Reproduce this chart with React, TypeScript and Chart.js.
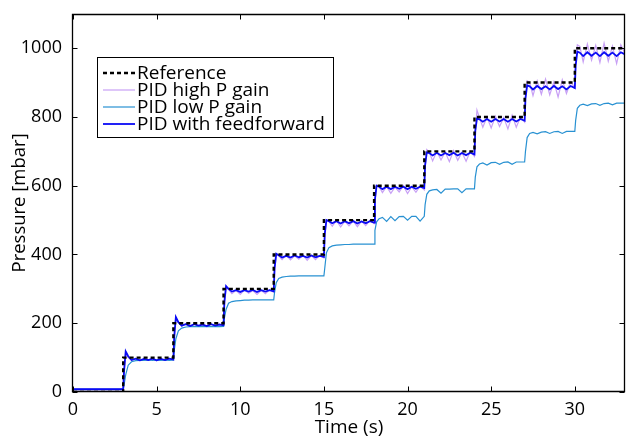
import React, { useEffect, useRef } from 'react';
import { Chart, registerables } from 'chart.js';
Chart.register(...registerables);

const FONT = '"Open Sans", "DejaVu Sans", sans-serif';

const SERIES_LABELS = ['Reference', 'PID high P gain', 'PID low P gain', 'PID with feedforward'];
const X_TICKS = [0, 5, 10, 15, 20, 25, 30];
const Y_TICKS = [0, 200, 400, 600, 800, 1000];

// Reference setpoint (step corners)
const REF_T = [0, 3, 3, 6, 6, 9, 9, 12, 12, 15, 15, 18, 18, 21, 21, 24, 24, 27, 27, 30, 30, 33];
const REF_V = [0, 0, 100, 100, 200, 200, 300, 300, 400, 400, 500, 500, 600, 600, 700, 700, 800, 800, 900, 900, 1000, 1000];

// Shared sample times for measured series
const T = [
  0, 3,
  3.05, 3.15, 3.3, 3.5, 3.75, 4, 4.25, 4.5, 4.75, 5, 5.25, 5.5, 5.75, 6,
  6.05, 6.15, 6.3, 6.5, 6.75, 7, 7.25, 7.5, 7.75, 8, 8.25, 8.5, 8.75, 9,
  9.05, 9.15, 9.3, 9.5, 9.75, 10, 10.25, 10.5, 10.75, 11, 11.25, 11.5, 11.75, 12,
  12.05, 12.15, 12.3, 12.5, 12.75, 13, 13.25, 13.5, 13.75, 14, 14.25, 14.5, 14.75, 15,
  15.05, 15.15, 15.3, 15.5, 15.75, 16, 16.25, 16.5, 16.75, 17, 17.25, 17.5, 17.75, 18,
  18.05, 18.15, 18.3, 18.5, 18.75, 19, 19.25, 19.5, 19.75, 20, 20.25, 20.5, 20.75, 21,
  21.05, 21.15, 21.3, 21.5, 21.75, 22, 22.25, 22.5, 22.75, 23, 23.25, 23.5, 23.75, 24,
  24.05, 24.15, 24.3, 24.5, 24.75, 25, 25.25, 25.5, 25.75, 26, 26.25, 26.5, 26.75, 27,
  27.05, 27.15, 27.3, 27.5, 27.75, 28, 28.25, 28.5, 28.75, 29, 29.25, 29.5, 29.75, 30,
  30.05, 30.15, 30.3, 30.5, 30.75, 31, 31.25, 31.5, 31.75, 32, 32.25, 32.5, 32.75, 33,
];

const HIGH_P = [
  8, 8,
  55, 110, 100, 92, 98, 91, 97, 92, 98, 91, 97, 92, 98, 95,
  150, 212, 202, 192, 199, 191, 198, 192, 199, 190, 198, 192, 199, 195,
  250, 305, 298, 286, 296, 284, 297, 287, 295, 284, 296, 286, 297, 290,
  350, 400, 396, 385, 398, 384, 396, 386, 398, 383, 397, 385, 398, 390,
  450, 500, 496, 482, 499, 480, 497, 483, 498, 481, 497, 484, 499, 490,
  550, 602, 597, 580, 598, 578, 596, 582, 600, 577, 597, 581, 599, 588,
  650, 705, 698, 672, 700, 675, 698, 670, 702, 674, 697, 671, 700, 685,
  750, 820, 798, 770, 800, 768, 802, 772, 798, 765, 805, 770, 800, 785,
  850, 905, 900, 862, 905, 866, 910, 864, 902, 858, 908, 868, 902, 885,
  950, 1010, 1005, 960, 1012, 965, 1008, 958, 1015, 962, 1006, 955, 1010, 985,
];

const LOW_P = [
  8, 8,
  20, 50, 78, 88, 91, 92, 92, 93, 92, 93, 92, 93, 92, 93,
  120, 155, 178, 186, 189, 190, 190, 191, 190, 191, 190, 191, 190, 191,
  215, 240, 258, 263, 265, 266, 267, 267, 268, 268, 268, 268, 268, 268,
  290, 318, 330, 334, 336, 337, 337, 338, 338, 338, 338, 338, 338, 338,
  360, 405, 420, 425, 427, 428, 429, 429, 430, 430, 430, 430, 430, 430,
  470, 495, 504, 508, 496, 510, 498, 510, 511, 500, 511, 511, 497, 511,
  545, 575, 585, 588, 589, 578, 590, 590, 591, 591, 580, 591, 591, 591,
  625, 655, 663, 666, 660, 667, 668, 662, 668, 669, 662, 669, 669, 669,
  700, 740, 752, 755, 751, 756, 757, 752, 757, 758, 752, 758, 758, 758,
  790, 825, 834, 837, 833, 838, 839, 834, 839, 840, 835, 840, 840, 840,
];

const FEEDFWD = [
  8, 8,
  60, 118, 104, 93, 97, 92, 96, 93, 97, 92, 96, 93, 97, 94,
  160, 218, 203, 193, 197, 192, 197, 193, 196, 192, 197, 193, 196, 194,
  262, 308, 300, 292, 296, 291, 296, 292, 297, 291, 296, 292, 296, 293,
  360, 402, 398, 391, 396, 391, 397, 392, 396, 391, 397, 392, 396, 393,
  460, 500, 497, 491, 497, 490, 497, 491, 497, 490, 496, 491, 497, 493,
  560, 600, 597, 590, 597, 590, 597, 591, 597, 590, 597, 591, 597, 593,
  660, 697, 695, 688, 696, 688, 695, 689, 696, 688, 695, 689, 696, 691,
  760, 795, 793, 786, 794, 786, 794, 787, 794, 786, 794, 787, 794, 789,
  855, 892, 889, 880, 890, 881, 889, 880, 890, 881, 889, 880, 890, 884,
  950, 990, 987, 977, 988, 978, 987, 977, 988, 978, 987, 977, 988, 982,
];

const frameAndTicks = {
  id: 'frameAndTicks',
  afterDatasetsDraw(chart: any) {
    const { ctx, chartArea } = chart;
    const { left, right, top, bottom } = chartArea;
    const xs = chart.scales.x;
    const ys = chart.scales.y;
    const L = Math.round(left) - 0.5;
    const R = Math.round(right) - 0.5;
    const Tp = Math.round(top) + 0.5;
    const B = Math.round(bottom) - 0.5;
    ctx.save();
    ctx.strokeStyle = '#000';
    ctx.lineWidth = 1.3;
    ctx.beginPath();
    ctx.rect(L, Tp, R - L, B - Tp);
    ctx.stroke();
    ctx.lineWidth = 1;
    ctx.beginPath();
    X_TICKS.forEach((v) => {
      const px = Math.round(xs.getPixelForValue(v)) + 0.5;
      ctx.moveTo(px, B); ctx.lineTo(px, B - 5);
      ctx.moveTo(px, Tp); ctx.lineTo(px, Tp + 5);
    });
    Y_TICKS.forEach((v) => {
      const py = Math.round(ys.getPixelForValue(v)) + 0.5;
      ctx.moveTo(L, py); ctx.lineTo(L + 5, py);
      ctx.moveTo(R, py); ctx.lineTo(R - 5, py);
    });
    ctx.stroke();
    ctx.restore();
  },
};

const boxLegend = {
  id: 'boxLegend',
  afterDraw(chart: any) {
    const ctx = chart.ctx;
    const x0 = 97, y0 = 57, w = 236, h = 80;
    ctx.save();
    ctx.fillStyle = '#fff';
    ctx.fillRect(x0, y0, w, h);
    ctx.strokeStyle = '#000';
    ctx.lineWidth = 1;
    ctx.strokeRect(x0 + 0.5, y0 + 0.5, w, h);
    ctx.font = '19px ' + FONT;
    ctx.textBaseline = 'middle';
    ctx.textAlign = 'left';
    chart.data.datasets.forEach((ds: any, i: number) => {
      const y = 73 + i * 17;
      ctx.strokeStyle = ds.borderColor;
      ctx.lineWidth = ds.borderWidth;
      ctx.setLineDash(ds.borderDash || []);
      ctx.beginPath();
      ctx.moveTo(103, y);
      ctx.lineTo(135, y);
      ctx.stroke();
      ctx.setLineDash([]);
      ctx.fillStyle = '#000';
      ctx.fillText(ds.label, 137, y + 1);
    });
    ctx.restore();
  },
};

export default function App() {
  const ref = useRef<HTMLCanvasElement | null>(null);
  useEffect(() => {
    document.body.style.margin = '0';
    const canvas = ref.current;
    if (!canvas) return;
    const pts = (vals: number[]) => T.map((t, i) => ({ x: t, y: vals[i] }));
    const chart = new Chart(canvas, {
      type: 'line',
      data: {
        datasets: [
          {
            label: SERIES_LABELS[0],
            data: REF_T.map((t, i) => ({ x: t, y: REF_V[i] })),
            borderColor: '#000000',
            borderWidth: 2.4,
            borderDash: [4, 3],
            pointRadius: 0,
            order: 0,
          },
          {
            label: SERIES_LABELS[1],
            data: pts(HIGH_P),
            borderColor: 'rgb(200,160,245)',
            borderWidth: 1.2,
            pointRadius: 0,
            tension: 0,
            order: 3,
          },
          {
            label: SERIES_LABELS[2],
            data: pts(LOW_P),
            borderColor: 'rgb(40,145,210)',
            borderWidth: 1.2,
            pointRadius: 0,
            tension: 0,
            order: 2,
          },
          {
            label: SERIES_LABELS[3],
            data: pts(FEEDFWD),
            borderColor: 'rgb(10,10,245)',
            borderWidth: 1.8,
            pointRadius: 0,
            tension: 0,
            order: 1,
          },
        ],
      },
      options: {
        responsive: false,
        animation: false,
        devicePixelRatio: 1,
        layout: { padding: { top: 13, right: 1, left: 0, bottom: 0 } },
        plugins: { legend: { display: false }, tooltip: { enabled: false } },
        scales: {
          x: {
            type: 'linear',
            min: 0,
            max: 33,
            grid: { display: false },
            border: { display: false },
            afterBuildTicks: (s: any) => { s.ticks = X_TICKS.map((v) => ({ value: v })); },
            afterFit: (s: any) => { s.height = 46; },
            ticks: {
              color: '#000', font: { family: FONT, size: 18 }, padding: -1, maxRotation: 0, autoSkip: false,
              callback: (v: any) => String(v),
            },
            title: {
              display: true,
              text: 'Time (s)',
              color: '#000',
              font: { family: FONT, size: 19 },
              padding: { top: 0, bottom: -1 },
            },
          },
          y: {
            type: 'linear',
            min: 0,
            max: 1100,
            grid: { display: false },
            border: { display: false },
            afterBuildTicks: (s: any) => { s.ticks = Y_TICKS.map((v) => ({ value: v })); },
            afterFit: (s: any) => { s.width = 73; },
            ticks: {
              color: '#000', font: { family: FONT, size: 18 }, padding: 3, autoSkip: false,
              callback: (v: any) => String(v),
            },
            title: {
              display: true,
              text: 'Pressure [mbar]',
              color: '#000',
              font: { family: FONT, size: 18.5 },
              padding: { top: 9, bottom: 0 },
            },
          },
        },
      },
      plugins: [frameAndTicks, boxLegend],
    } as any);
    return () => chart.destroy();
  }, []);
  return (
    <div style={{ position: 'fixed', left: 0, top: 0, width: 626, height: 438, background: '#fff' }}>
      <canvas ref={ref} width={626} height={438} />
    </div>
  );
}
